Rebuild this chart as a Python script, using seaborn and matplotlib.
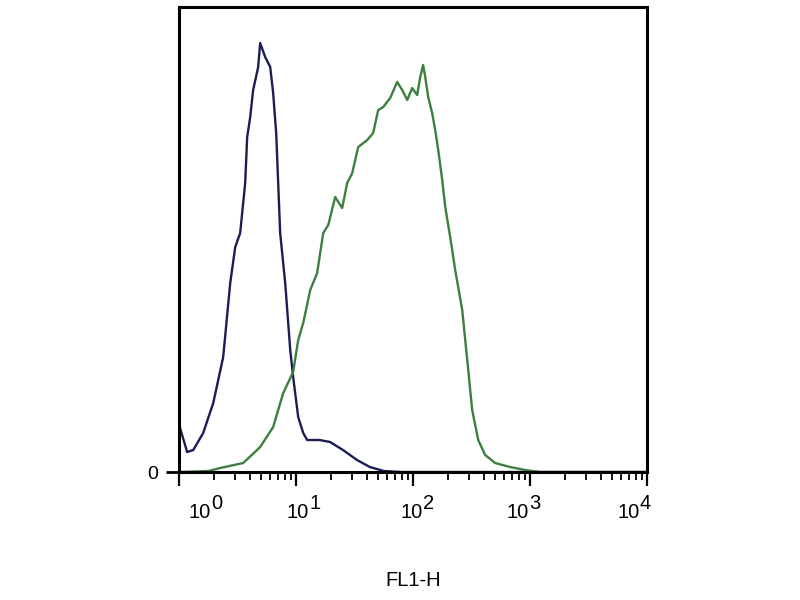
import numpy as np
import pandas as pd
import matplotlib
matplotlib.use('Agg')
import matplotlib.pyplot as plt
import matplotlib.ticker as mticker
import matplotlib.transforms as mtransforms
import seaborn as sns

'''一、数据（从图上估读，x 为 log10(FL1-H)）'''
# 1. 蓝色曲线（对照）
blue_log = [0.00, 0.03, 0.068, 0.12, 0.205, 0.291, 0.376, 0.436, 0.479, 0.521,
            0.564, 0.581, 0.607, 0.632, 0.675, 0.692, 0.735, 0.778, 0.803, 0.829,
            0.863, 0.906, 0.949, 0.974, 1.017, 1.060, 1.094, 1.20, 1.29, 1.40,
            1.52, 1.63, 1.75, 1.90, 2.50, 3.00, 4.00]
blue_count = [47, 35, 20, 22, 39, 69, 115, 189, 225, 239,
              289, 335, 355, 382, 405, 429, 415, 405, 379, 339,
              239, 189, 122, 95, 55, 39, 32, 32, 30, 22,
              12, 5, 1, 0, 0, 0, 0]

# 2. 绿色曲线（样本）
green_log = [0.00, 0.25, 0.35, 0.547, 0.692, 0.803, 0.889, 0.974, 1.017, 1.060,
             1.120, 1.179, 1.231, 1.274, 1.333, 1.393, 1.436, 1.479, 1.530, 1.607,
             1.658, 1.701, 1.744, 1.803, 1.863, 1.906, 1.949, 1.991, 2.034, 2.060,
             2.085, 2.103, 2.128, 2.162, 2.188, 2.214, 2.248, 2.274, 2.316, 2.359,
             2.419, 2.462, 2.504, 2.556, 2.615, 2.701, 2.829, 2.957, 3.085, 4.00]
green_count = [0, 1, 4, 9, 25, 45, 79, 100, 132, 149,
               182, 199, 239, 247, 275, 264, 289, 299, 325, 332,
               339, 362, 365, 374, 390, 382, 372, 384, 377, 395,
               407, 395, 375, 359, 342, 322, 292, 265, 235, 202,
               162, 112, 62, 32, 17, 9, 5, 2, 0, 0]

# 3. 刻度标签
decades = [0, 1, 2, 3, 4]
label_log = [0.171, 1.009, 1.983, 2.889, 3.838]

df = pd.concat([
    pd.DataFrame({'FL1-H': 10 ** np.array(blue_log), 'count': blue_count, 'sample': 'control'}),
    pd.DataFrame({'FL1-H': 10 ** np.array(green_log), 'count': green_count, 'sample': 'stained'}),
])

'''二、画图'''
sns.set_style('ticks')
plt.rcParams['font.family'] = ['Liberation Sans', 'DejaVu Sans']
plt.rcParams['text.color'] = 'black'
plt.rcParams['xtick.labelcolor'] = 'black'
plt.rcParams['ytick.labelcolor'] = 'black'
plt.rcParams['axes.labelcolor'] = 'black'

fig = plt.figure(figsize=(8, 6), dpi=100)
ax = fig.add_axes([0.224, 0.2133, 0.585, 0.775])
sns.lineplot(data=df, x='FL1-H', y='count', hue='sample', estimator=None,
             palette={'control': '#1c1d55', 'stained': '#3d7f3d'},
             linewidth=1.7, legend=False, ax=ax)

ax.set_xscale('log')
ax.set_xlim(1, 1e4)
ax.set_ylim(0, 465)

for s in ax.spines.values():
    s.set_visible(True)
    s.set_linewidth(2.2)
    s.set_color('black')

ax.xaxis.set_major_locator(mticker.LogLocator(base=10, numticks=10))
ax.xaxis.set_minor_locator(mticker.LogLocator(base=10, subs=range(2, 10), numticks=20))
ax.xaxis.set_major_formatter(mticker.NullFormatter())
ax.xaxis.set_minor_formatter(mticker.NullFormatter())
ax.tick_params(axis='x', which='major', length=10, width=1.6, color='black', direction='out')
ax.tick_params(axis='x', which='minor', length=6, width=1.3, color='black', direction='out')

ax.set_yticks([0])
ax.set_yticklabels(['0'])
ax.tick_params(axis='y', which='major', length=9.4, width=2, color='black', pad=6, labelsize=14)
ax.yaxis.set_minor_locator(mticker.NullLocator())

# 4. 10 的幂标签（指数与底数同字号）
trans = mtransforms.blended_transform_factory(ax.transData, ax.transAxes)
for lp, d in zip(label_log, decades):
    ax.annotate('10', xy=(10 ** lp, 0), xycoords=trans, xytext=(0, -29.5),
                textcoords='offset points', ha='center', va='center', fontsize=14.5)
    ax.annotate(str(d), xy=(10 ** lp, 0), xycoords=trans, xytext=(12.5, -22.5),
                textcoords='offset points', ha='center', va='center', fontsize=14.5)

ax.set_xlabel('FL1-H', fontsize=14.5, labelpad=58)
ax.set_ylabel('')

fig.savefig('out.png', dpi=100)
